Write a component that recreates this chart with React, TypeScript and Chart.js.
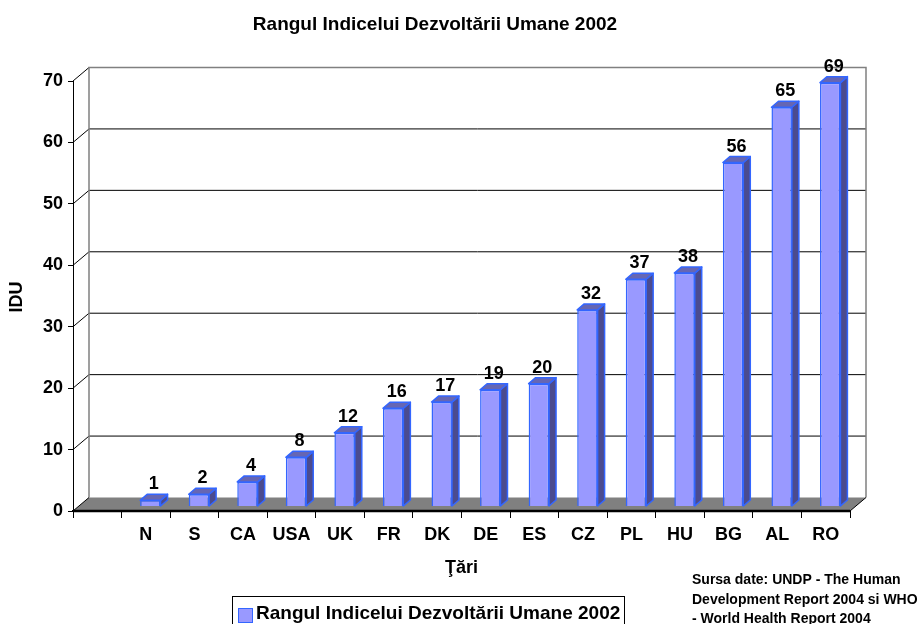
import React, { useEffect, useRef } from 'react';
import { Chart, registerables } from 'chart.js';

Chart.register(...registerables);

const categories = ['', 'N', 'S', 'CA', 'USA', 'UK', 'FR', 'DK', 'DE', 'ES', 'CZ', 'PL', 'HU', 'BG', 'AL', 'RO'];
const idRank: (number | null)[] = [null, 1, 2, 4, 8, 12, 16, 17, 19, 20, 32, 37, 38, 56, 65, 69];
const yTicks = [0, 10, 20, 30, 40, 50, 60, 70];
const seriesName = 'Rangul Indicelui Dezvoltării Umane 2002';
const chartTitle = 'Rangul Indicelui Dezvoltării Umane 2002';
const yTitle = 'IDU';
const xTitle = 'Ţări';
const sourceLines = ['Sursa date: UNDP - The Human', 'Development Report 2004 si WHO', '- World Health Report 2004'];

const FONT = "'Liberation Sans', Arial, Helvetica, sans-serif";
const DX = 16, DY = -13.5;   // depth of floor / walls
const BX = 4.5, BY = -4.5;   // bar plane shift
const SX = 7, SY = -6;       // bar depth
const FRONT = '#9999FF', EDGE = '#3366FF', SIDE = '#4B4B8F', TOP = '#6666B3';

const threeD = {
  id: 'threeD',
  beforeDatasetsDraw(chart: any) {
    const { ctx, chartArea: a, scales } = chart;
    const y = scales.y;
    const y0 = y.getPixelForValue(0);
    const yTop = y.getPixelForValue(yTicks[yTicks.length - 1]);
    ctx.save();
    // floor
    ctx.fillStyle = '#808080';
    ctx.beginPath();
    ctx.moveTo(a.left, y0);
    ctx.lineTo(a.right, y0);
    ctx.lineTo(a.right + DX, y0 + DY);
    ctx.lineTo(a.left + DX, y0 + DY);
    ctx.closePath();
    ctx.fill();
    // gridlines on side + back wall
    ctx.strokeStyle = '#000';
    ctx.lineWidth = 1;
    for (const v of yTicks) {
      if (v === 0) continue;
      const py = y.getPixelForValue(v);
      ctx.beginPath();
      ctx.moveTo(a.left, py);
      ctx.lineTo(a.left + DX, py + DY);
      ctx.lineTo(a.right + DX, py + DY);
      ctx.stroke();
    }
    // wall edges
    ctx.strokeStyle = '#808080';
    ctx.lineWidth = 1.5;
    ctx.beginPath();
    ctx.moveTo(a.left + DX, y0 + DY);
    ctx.lineTo(a.left + DX, yTop + DY);
    ctx.lineTo(a.right + DX, yTop + DY);
    ctx.lineTo(a.right + DX, y0 + DY);
    ctx.stroke();
    // floor edges
    ctx.strokeStyle = '#000';
    ctx.lineWidth = 1;
    ctx.beginPath();
    ctx.moveTo(a.left, y0);
    ctx.lineTo(a.left + DX, y0 + DY);
    ctx.moveTo(a.right, y0);
    ctx.lineTo(a.right + DX, y0 + DY);
    ctx.stroke();
    ctx.lineWidth = 2.5;
    ctx.beginPath();
    ctx.moveTo(a.left, y0);
    ctx.lineTo(a.right, y0);
    ctx.stroke();
    ctx.restore();
    ctx.save();
    ctx.translate(BX, BY);
  },
  afterDatasetsDraw(chart: any) {
    const ctx = chart.ctx;
    const meta = chart.getDatasetMeta(0);
    ctx.lineWidth = 1.5;
    ctx.strokeStyle = EDGE;
    ctx.lineJoin = 'round';
    meta.data.forEach((bar: any, i: number) => {
      const v = idRank[i];
      if (v == null) return;
      const { x, y, base, width } = bar.getProps(['x', 'y', 'base', 'width'], true);
      const l = x - width / 2, r = x + width / 2;
      // right side
      ctx.fillStyle = SIDE;
      ctx.beginPath();
      ctx.moveTo(r, y);
      ctx.lineTo(r + SX, y + SY);
      ctx.lineTo(r + SX, base + SY);
      ctx.lineTo(r, base);
      ctx.closePath();
      ctx.fill();
      ctx.stroke();
      // top
      ctx.fillStyle = TOP;
      ctx.beginPath();
      ctx.moveTo(l, y);
      ctx.lineTo(l + SX, y + SY);
      ctx.lineTo(r + SX, y + SY);
      ctx.lineTo(r, y);
      ctx.closePath();
      ctx.fill();
      ctx.stroke();
      // value label
      ctx.fillStyle = '#000';
      ctx.font = `bold 18px ${FONT}`;
      ctx.textAlign = 'center';
      ctx.textBaseline = 'alphabetic';
      ctx.fillText(String(v), x + SX / 2, y - 11);
    });
    ctx.restore();
  },
  afterDraw(chart: any) {
    const { ctx, chartArea: a } = chart;
    ctx.save();
    ctx.fillStyle = '#000';
    // title
    ctx.font = `bold 19px ${FONT}`;
    ctx.textAlign = 'center';
    ctx.textBaseline = 'alphabetic';
    ctx.fillText(chartTitle, 435, 30);
    // x title
    ctx.font = `bold 18px ${FONT}`;
    ctx.fillText(xTitle, (a.left + a.right) / 2, 573);
    // y title
    ctx.save();
    ctx.translate(17, 297);
    ctx.rotate(-Math.PI / 2);
    ctx.textBaseline = 'middle';
    ctx.fillText(yTitle, 0, 0);
    ctx.restore();
    // source
    ctx.font = `bold 14px ${FONT}`;
    ctx.textAlign = 'left';
    sourceLines.forEach((s, i) => ctx.fillText(s, 692, 584 + i * 19.5));
    // legend
    ctx.strokeStyle = '#000';
    ctx.lineWidth = 1;
    ctx.strokeRect(232.5, 596.5, 392, 40);
    ctx.fillStyle = FRONT;
    ctx.fillRect(238.5, 608.5, 14, 14);
    ctx.strokeStyle = EDGE;
    ctx.strokeRect(238.5, 608.5, 14, 14);
    ctx.fillStyle = '#000';
    ctx.font = `bold 19px ${FONT}`;
    ctx.fillText(seriesName, 256, 619);
    ctx.restore();
  },
};

export default function App() {
  const ref = useRef<HTMLCanvasElement | null>(null);
  useEffect(() => {
    if (!ref.current) return;
    const chart = new Chart(ref.current, {
      type: 'bar',
      data: {
        labels: categories,
        datasets: [
          {
            label: seriesName,
            data: idRank,
            backgroundColor: FRONT,
            borderColor: EDGE,
            borderWidth: 1.5,
            categoryPercentage: 1,
            barPercentage: 0.42,
          },
        ],
      },
      options: {
        animation: false,
        responsive: false,
        devicePixelRatio: 1,
        layout: { padding: { top: 81, right: 72, left: 0, bottom: 0 } },
        plugins: {
          legend: { display: false },
          title: { display: false },
          tooltip: { enabled: false },
        },
        scales: {
          x: {
            afterFit: (s: any) => { s.height = 113; },
            grid: { display: true, drawOnChartArea: false, offset: true, color: '#000', tickLength: 7, lineWidth: 1 },
            border: { display: true, color: '#000', width: 2 },
            ticks: {
              autoSkip: false,
              maxRotation: 0,
              color: '#000',
              padding: 6,
              font: { family: FONT, size: 18, weight: 'bold' },
            },
          },
          y: {
            min: 0,
            max: 70,
            afterFit: (s: any) => { s.width = 73; },
            grid: { display: true, drawOnChartArea: false, color: '#000', tickLength: 5, lineWidth: 1 },
            border: { display: true, color: '#000', width: 1 },
            ticks: {
              stepSize: 10,
              color: '#000',
              padding: 5,
              font: { family: FONT, size: 18, weight: 'bold' },
            },
          },
        },
      },
      plugins: [threeD],
    });
    return () => chart.destroy();
  }, []);
  return (
    <div style={{ position: 'absolute', left: 0, top: 0, width: 922, height: 624, background: '#fff' }}>
      <canvas ref={ref} width={922} height={624} />
    </div>
  );
}
